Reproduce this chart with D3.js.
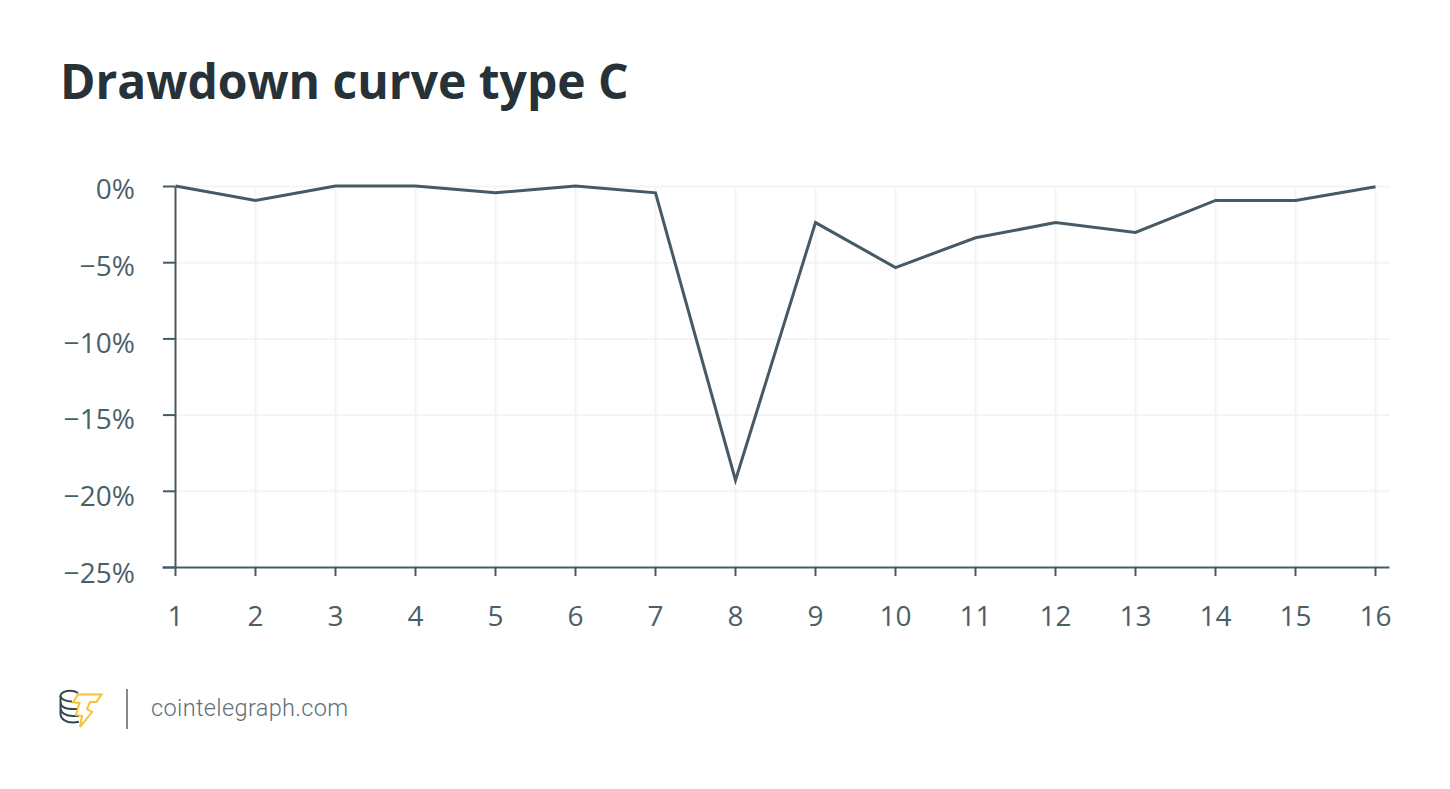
<!DOCTYPE html>
<html>
<head>
<meta charset="utf-8">
<script src="https://cdn.jsdelivr.net/npm/d3@7/dist/d3.min.js"></script>
<style>
html,body{margin:0;padding:0;background:#fff;}
svg{display:block;}
text{font-family:"Open Sans",sans-serif;}
</style>
</head>
<body>
<svg id="c" width="1450" height="789"></svg>
<script>
const periods = [1,2,3,4,5,6,7,8,9,10,11,12,13,14,15,16];
const drawdown = [0,-0.95,0,0,-0.45,0,-0.45,-19.3,-2.4,-5.35,-3.4,-2.4,-3.05,-0.95,-0.95,-0.05];
const yTicks = [0,-5,-10,-15,-20,-25];
const titleText = "Drawdown curve type C";
const sourceText = "cointelegraph.com";

const ink = "#4b5f6a";
const svg = d3.select("#c");
const x = d3.scaleLinear().domain([1,16]).range([175.5,1375.5]);
const y = d3.scaleLinear().domain([0,-25]).range([186,567]);
const yLabel = d3.scaleLinear().domain([0,-25]).range([199,583]);
const xEnd = 1390, xStart = 163;

svg.append("text").attr("x",60).attr("y",99).attr("font-size",48).attr("font-weight",700)
  .attr("fill","#263238").text(titleText);

const grid = svg.append("g").attr("stroke","#f3f4f4").attr("stroke-width",2);
grid.selectAll("line.h").data(yTicks.slice(0,-1)).join("line").attr("class","h")
  .attr("x1",x(1)).attr("x2",xEnd).attr("y1",d=>y(d)+0.5).attr("y2",d=>y(d)+0.5);
grid.selectAll("line.v").data(periods.slice(1)).join("line").attr("class","v")
  .attr("y1",y(0)).attr("y2",y(-25)).attr("x1",d=>x(d)).attr("x2",d=>x(d));

const yAxis = svg.append("g").attr("transform",`translate(${x(1)-0.5},0)`)
  .call(d3.axisLeft(y).tickValues(yTicks).tickSize(12).tickSizeOuter(0).tickPadding(28)
    .tickFormat(d=>(d<0?"\u2212"+Math.abs(d):d)+"%"));
yAxis.selectAll("text").attr("font-size",28).attr("fill",ink).attr("dy",0)
  .attr("y",d=>yLabel(d)-y(d)-0.5);

const xAxis = svg.append("g").attr("transform",`translate(-0.5,${y(-25)})`)
  .call(d3.axisBottom(x).tickValues(periods).tickSize(9).tickSizeOuter(0).tickPadding(30)
    .tickFormat(d3.format("d")));
xAxis.selectAll("text").attr("font-size",28).attr("fill",ink);
xAxis.select(".domain").attr("d",`M${xStart},0.5H${xEnd}`);
[yAxis,xAxis].forEach(a=>{
  a.selectAll(".domain,line").attr("stroke","#465a65").attr("stroke-width",2);
  a.select(".domain").attr("fill","none");
});

svg.append("path").datum(periods.map((p,i)=>[p,drawdown[i]]))
  .attr("fill","none").attr("stroke","#465a65").attr("stroke-width",3).attr("stroke-linejoin","miter")
  .attr("d",d3.line().x(d=>x(d[0])).y(d=>y(d[1])));

// footer logo
const logo = svg.append("g").attr("fill","none").attr("stroke-width",2);
const coins = logo.append("g").attr("stroke","#37474f");
coins.append("path").attr("d","M78 693C75 691 70 690.5 67 691C63 692 60.5 693.5 60.5 696C60.5 699 66 701.5 72 701.5");
coins.append("path").attr("d","M60.5 696V714C60.5 719 66 722.5 73 722.5C75 722.5 77 722.2 79 721.7M60.5 702C60.5 707 66 709 73 709H77M60.5 708C60.5 713 66 716 73 716H79");
logo.append("path").attr("stroke","#f7c331").attr("stroke-linejoin","miter")
  .attr("d","M78 694.5H101.5L96.5 702H90L87 709L92 712L80 727L82 716L76 715L79.5 703L73 702.5Z");
svg.append("line").attr("x1",127).attr("x2",127).attr("y1",689).attr("y2",729).attr("stroke","#888").attr("stroke-width",2);
svg.append("text").attr("x",151).attr("y",716).attr("font-size",23.5).attr("fill","#5d6f7a")
  .style("font-family","Roboto").style("font-weight",300).attr("letter-spacing",0.36).text(sourceText);
</script>
</body>
</html>
